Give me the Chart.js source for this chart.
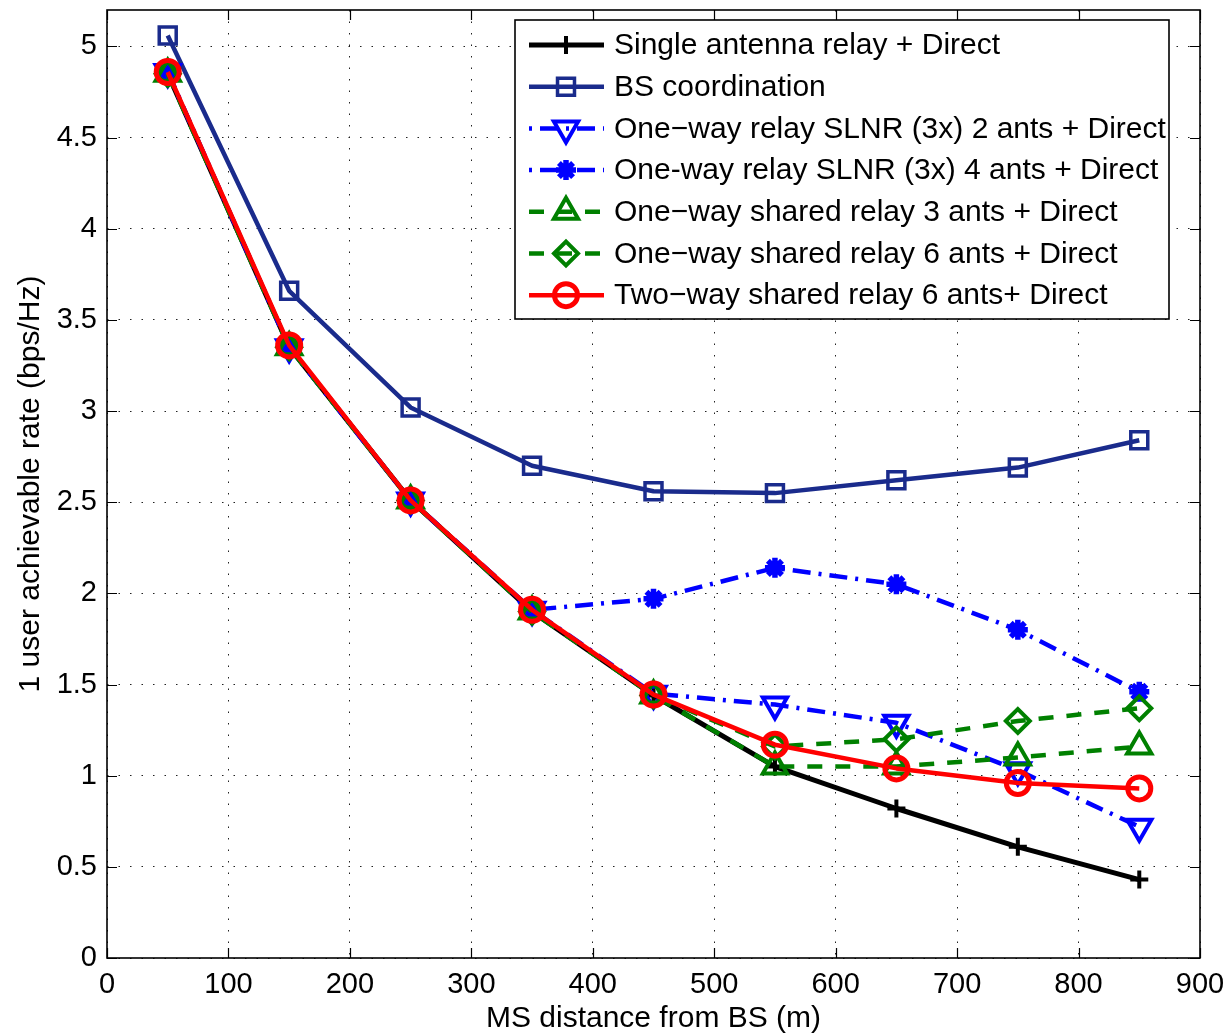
<!DOCTYPE html>
<html>
<head>
<meta charset="utf-8">
<script src="https://cdn.jsdelivr.net/npm/chart.js@4.4.0/dist/chart.umd.min.js"></script>
<style>
  html, body { margin: 0; padding: 0; background: #ffffff; }
  canvas { display: block; }
</style>
</head>
<body>
<canvas id="c" width="1230" height="1035"></canvas>
<script>
// ---------------- DATA ----------------
const distances = [50, 150, 250, 350, 450, 550, 650, 750, 850];

const singleAntenna = [4.85, 3.35, 2.51, 1.90, 1.44, 1.05, 0.82, 0.61, 0.43];
const bsCoordination = [5.06, 3.66, 3.02, 2.70, 2.56, 2.55, 2.62, 2.69, 2.84];
const slnr2Ants = [4.86, 3.35, 2.51, 1.91, 1.45, 1.39, 1.29, 1.03, 0.72];
const slnr4Ants = [4.86, 3.35, 2.51, 1.91, 1.97, 2.14, 2.05, 1.80, 1.46];
const shared3Ants = [4.85, 3.35, 2.51, 1.90, 1.44, 1.05, 1.05, 1.10, 1.16];
const shared6Ants = [4.85, 3.35, 2.51, 1.90, 1.44, 1.16, 1.20, 1.30, 1.37];
const twoWay6Ants = [4.86, 3.36, 2.51, 1.91, 1.445, 1.17, 1.04, 0.96, 0.93];

const seriesNames = [
  'Single antenna relay + Direct',
  'BS coordination',
  'One\u2212way relay SLNR (3x) 2 ants + Direct',
  'One-way relay SLNR (3x) 4 ants + Direct',
  'One\u2212way shared relay 3 ants + Direct',
  'One\u2212way shared relay 6 ants + Direct',
  'Two\u2212way shared relay 6 ants+ Direct'
];
const seriesValues = [singleAntenna, bsCoordination, slnr2Ants, slnr4Ants, shared3Ants, shared6Ants, twoWay6Ants];

const xTickValues = [0, 100, 200, 300, 400, 500, 600, 700, 800, 900];
const xTickLabels = ['0', '100', '200', '300', '400', '500', '600', '700', '800', '900'];
const yTickValues = [0, 0.5, 1, 1.5, 2, 2.5, 3, 3.5, 4, 4.5, 5];
const yTickLabels = ['0', '0.5', '1', '1.5', '2', '2.5', '3', '3.5', '4', '4.5', '5'];
const xTitle = 'MS distance from BS (m)';
const yTitle = '1 user achievable rate (bps/Hz)';

// ---------------- STYLES ----------------
const FONT = "'Liberation Sans', Arial, Helvetica, sans-serif";
const DASHDOT = [18, 8, 3, 8];
const DASHED = [15, 13];
const styles = [
  { color: '#000000', dash: [], off: 0, point: 'cross', rot: 0, r: 9, bw: 4, lw: 5 },
  { color: '#1a2b8c', dash: [], off: 0, point: 'rect', rot: 0, r: 12, bw: 3.5, lw: 4.5 },
  { color: '#0000ff', dash: DASHDOT, off: 26, point: 'triangle', rot: 180, r: 14, bw: 4, lw: 4.5 },
  { color: '#0000ff', dash: DASHDOT, off: 26, point: 'star', rot: 0, r: 10, bw: 5.5, lw: 4.5 },
  { color: '#008000', dash: DASHED, off: 0, point: 'triangle', rot: 0, r: 14, bw: 4, lw: 4.5 },
  { color: '#008000', dash: DASHED, off: 0, point: 'rectRot', rot: 0, r: 12, bw: 4, lw: 4.5 },
  { color: '#ff0000', dash: [], off: 0, point: 'circle', rot: 0, r: 11.5, bw: 5, lw: 4.5 }
];

const datasets = seriesValues.map((vals, i) => {
  const s = styles[i];
  return {
    label: seriesNames[i],
    data: distances.map((x, k) => ({ x: x, y: vals[k] })),
    borderColor: s.color,
    borderWidth: s.lw,
    borderDash: s.dash,
    borderJoinStyle: 'round',
    fill: false,
    tension: 0,
    pointStyle: s.point,
    pointRotation: s.rot,
    pointRadius: s.r,
    pointHoverRadius: s.r,
    pointBorderWidth: s.bw,
    pointBorderColor: s.color,
    pointBackgroundColor: 'rgba(0,0,0,0)',
    order: seriesValues.length - 1 - i
  };
});

function lookupLabel(values, labels, v) {
  const i = values.findIndex(t => Math.abs(t - v) < 1e-9);
  return i >= 0 ? labels[i] : '';
}

// Axes box, inner tick marks and legend
const framePlugin = {
  id: 'frame',
  afterDraw(chart) {
    const ctx = chart.ctx;
    const a = chart.chartArea;
    const xs = chart.scales.x, ys = chart.scales.y;
    ctx.save();
    ctx.setLineDash([]);
    ctx.strokeStyle = '#000';
    ctx.lineWidth = 1.2;
    ctx.beginPath();
    yTickValues.forEach(v => {
      const y = Math.round(ys.getPixelForValue(v)) + 0.5;
      ctx.moveTo(a.left, y); ctx.lineTo(a.left + 10, y);
      ctx.moveTo(a.right, y); ctx.lineTo(a.right - 10, y);
    });
    xTickValues.forEach(v => {
      const x = Math.round(xs.getPixelForValue(v)) + 0.5;
      ctx.moveTo(x, a.bottom); ctx.lineTo(x, a.bottom - 10);
      ctx.moveTo(x, a.top); ctx.lineTo(x, a.top + 10);
    });
    ctx.stroke();
    ctx.lineWidth = 1.6;
    ctx.strokeRect(a.left, a.top, a.right - a.left, a.bottom - a.top);

    // legend
    const L = { x: 515, y: 20, w: 654, h: 299 };
    ctx.fillStyle = '#ffffff';
    ctx.fillRect(L.x, L.y, L.w, L.h);
    ctx.lineWidth = 1.6;
    ctx.strokeStyle = '#000';
    ctx.strokeRect(L.x, L.y, L.w, L.h);
    const rowTop = 45, rowStep = 41.7;
    chart.data.datasets.forEach((ds, i) => {
      const s = styles[i];
      const y = rowTop + i * rowStep;
      ctx.save();
      ctx.strokeStyle = s.color;
      ctx.lineWidth = s.lw;
      ctx.setLineDash(s.dash);
      ctx.lineDashOffset = s.off;
      ctx.beginPath();
      ctx.moveTo(529, y); ctx.lineTo(604, y);
      ctx.stroke();
      ctx.setLineDash([]);
      ctx.lineWidth = s.bw;
      ctx.fillStyle = 'rgba(0,0,0,0)';
      if (Chart.helpers && Chart.helpers.drawPoint) {
        Chart.helpers.drawPoint(ctx, { pointStyle: s.point, rotation: s.rot, radius: s.r, borderWidth: s.bw }, 566, y);
      }
      ctx.restore();
      ctx.fillStyle = '#000';
      ctx.font = '30px ' + FONT;
      ctx.textBaseline = 'middle';
      ctx.textAlign = 'left';
      ctx.fillText(ds.label, 614, y + 1);
    });
    ctx.restore();
  }
};

new Chart(document.getElementById('c'), {
  type: 'line',
  data: { datasets: datasets },
  options: {
    responsive: false,
    animation: false,
    devicePixelRatio: 1,
    layout: { autoPadding: false, padding: { top: 10, right: 30, left: 0, bottom: 0 } },
    plugins: { legend: { display: false }, tooltip: { enabled: false } },
    scales: {
      x: {
        type: 'linear',
        min: 0, max: 900,
        afterBuildTicks(scale) { scale.ticks = xTickValues.map(v => ({ value: v })); },
        afterFit(scale) {
          scale.height = 77;
          scale.paddingLeft = 0; scale.paddingRight = 0; scale.paddingTop = 0; scale.paddingBottom = 0;
        },
        ticks: {
          callback: v => lookupLabel(xTickValues, xTickLabels, v),
          font: { family: FONT, size: 29 },
          color: '#000',
          padding: 10,
          maxRotation: 0,
          autoSkip: false
        },
        grid: { color: '#222', lineWidth: 1, drawTicks: false },
        border: { display: false, dash: [1.5, 10] },
        title: {
          display: true, text: xTitle, color: '#000',
          font: { family: FONT, size: 30, lineHeight: 1 },
          padding: { top: 0, bottom: 1 }
        }
      },
      y: {
        type: 'linear',
        min: 0, max: 5.2,
        afterBuildTicks(scale) { scale.ticks = yTickValues.map(v => ({ value: v })); },
        afterFit(scale) {
          scale.width = 107;
          scale.paddingLeft = 0; scale.paddingRight = 0; scale.paddingTop = 0; scale.paddingBottom = 0;
        },
        ticks: {
          callback: v => lookupLabel(yTickValues, yTickLabels, v),
          font: { family: FONT, size: 29 },
          color: '#000',
          padding: 10,
          autoSkip: false
        },
        grid: { color: '#222', lineWidth: 1, drawTicks: false },
        border: { display: false, dash: [1.5, 10] },
        title: {
          display: true, text: yTitle, color: '#000',
          font: { family: FONT, size: 30, lineHeight: 1 },
          padding: { top: 16, bottom: 0 }
        }
      }
    }
  },
  plugins: [framePlugin]
});
</script>
</body>
</html>
